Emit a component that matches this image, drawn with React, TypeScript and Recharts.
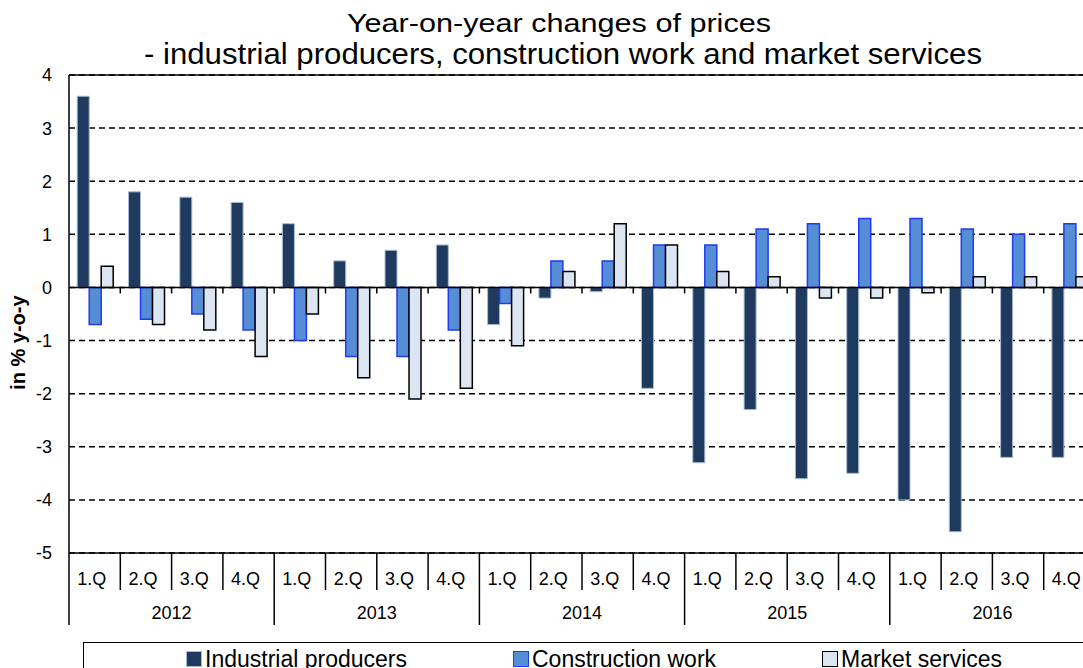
import { BarChart, Bar, XAxis, YAxis, CartesianGrid, ReferenceLine, Legend } from "recharts";

const quarters = [
  "1.Q", "2.Q", "3.Q", "4.Q",
  "1.Q", "2.Q", "3.Q", "4.Q",
  "1.Q", "2.Q", "3.Q", "4.Q",
  "1.Q", "2.Q", "3.Q", "4.Q",
  "1.Q", "2.Q", "3.Q", "4.Q",
];
const years = ["2012", "2013", "2014", "2015", "2016"];
const seriesNames = ["Industrial producers", "Construction work", "Market services"];

const industrial = [3.6, 1.8, 1.7, 1.6, 1.2, 0.5, 0.7, 0.8, -0.7, -0.2, -0.08, -1.9, -3.3, -2.3, -3.6, -3.5, -4.0, -4.6, -3.2, -3.2];
const construction = [-0.7, -0.6, -0.5, -0.8, -1.0, -1.3, -1.3, -0.8, -0.3, 0.5, 0.5, 0.8, 0.8, 1.1, 1.2, 1.3, 1.3, 1.1, 1.0, 1.2];
const services = [0.4, -0.7, -0.8, -1.3, -0.5, -1.7, -2.1, -1.9, -1.1, 0.3, 1.2, 0.8, 0.3, 0.2, -0.2, -0.2, -0.1, 0.2, 0.2, 0.2];

const yTicks = [-5, -4, -3, -2, -1, 0, 1, 2, 3, 4];

const data = quarters.map((q, i) => ({
  key: `${years[Math.floor(i / 4)]} ${q}`,
  industrial: industrial[i],
  construction: construction[i],
  services: services[i],
}));

const FONT = "'Liberation Sans', Arial, sans-serif";
const W = 1100;
const H = 668;
const M = { top: 75, right: 5, bottom: 43, left: 0 };
const Y_W = 69;
const X_H = 72;
const BAND = (W - M.left - M.right - Y_W) / quarters.length;

function XTick(props: any) {
  const { x, y, payload } = props;
  const i = props.index ?? payload.index;
  const left = x - BAND / 2;
  const yearStart = i % 4 === 0;
  return (
    <g>
      <line x1={left} y1={y} x2={left} y2={y + (yearStart ? 72 : 37)} stroke="#000" strokeWidth={1.5} />
      <text x={x - 3} y={y + 32} textAnchor="middle" fontSize={18} fontFamily={FONT} fill="#000">
        {quarters[i]}
      </text>
      {yearStart && (
        <text x={left + BAND * 2} y={y + 66} textAnchor="middle" fontSize={18} fontFamily={FONT} fill="#000">
          {years[i / 4]}
        </text>
      )}
    </g>
  );
}

// zero line with the small tick marks hanging below it
function ZeroLine(p: any) {
  const step = (p.x2 - p.x1) / quarters.length;
  return (
    <g>
      <line x1={p.x1} y1={p.y1} x2={p.x2} y2={p.y2} stroke="#000" strokeWidth={1.5} />
      {quarters.map((_, i) =>
        i === 0 ? null : (
          <line key={i} x1={p.x1 + step * i} y1={p.y1} x2={p.x1 + step * i} y2={p.y1 + 6} stroke="#000" strokeWidth={1.5} />
        )
      )}
    </g>
  );
}

const legendX = [102, 429, 738];

function LegendBox({ payload }: any) {
  const items = [...(payload || [])].sort((a: any, b: any) => seriesNames.indexOf(a.value) - seriesNames.indexOf(b.value));
  return (
    <div style={{ position: "relative", width: W, height: 40, borderTop: "1.5px solid #000", borderLeft: "1.5px solid #000", boxSizing: "border-box", fontFamily: FONT, fontSize: 23, color: "#000" }}>
      {items.map((e: any, i: number) => (
        <div key={e.value} style={{ position: "absolute", left: legendX[i], top: 3, height: 26, display: "flex", alignItems: "center", whiteSpace: "nowrap" }}>
          <span style={{ display: "inline-block", width: 14, height: 14, background: e.payload?.fill ?? e.color, border: `1px solid ${e.payload?.stroke ?? e.color}`, marginRight: 3 }} />
          {e.value}
        </div>
      ))}
    </div>
  );
}

export default function App() {
  return (
    <div style={{ position: "fixed", left: 0, top: 0, width: 1083, height: 668, overflow: "hidden", background: "#fff" }}>
      <BarChart width={W} height={H} data={data} margin={M} barCategoryGap="16%" barGap={0}>
        <CartesianGrid horizontal vertical={false} stroke="#000" strokeWidth={1.5} strokeDasharray="6 4" />
        <XAxis
          dataKey="key"
          interval={0}
          height={X_H}
          tickLine={false}
          tickSize={0}
          tickMargin={0}
          axisLine={{ stroke: "#000", strokeWidth: 1.5 }}
          tick={XTick}
        />
        <YAxis
          width={Y_W}
          domain={[-5, 4]}
          ticks={yTicks}
          interval={0}
          tickLine={false}
          tickSize={0}
          tickMargin={17}
          axisLine={{ stroke: "#000", strokeWidth: 1.5 }}
          tick={{ fontSize: 18, fontFamily: FONT, fill: "#000" }}
          label={{
            content: ({ viewBox }: any) => (
              <text
                transform={`translate(${viewBox.x + 20}, ${viewBox.y + viewBox.height * 0.56}) rotate(-90)`}
                textAnchor="middle"
                dominantBaseline="middle"
                fontSize={20}
                fontWeight="bold"
                fontFamily={FONT}
                fill="#000"
              >
                in % y-o-y
              </text>
            ),
          }}
        />
        <ReferenceLine y={4} stroke="#000" strokeWidth={1.5} />
        <Bar dataKey="industrial" name={seriesNames[0]} fill="#1F3A5F" stroke="#A9BAD0" strokeWidth={1} isAnimationActive={false} />
        <Bar dataKey="construction" name={seriesNames[1]} fill="#558ED5" stroke="#1E3CF0" strokeWidth={1.5} isAnimationActive={false} />
        <Bar dataKey="services" name={seriesNames[2]} fill="#DCE6F2" stroke="#000" strokeWidth={1.5} isAnimationActive={false} />
        <ReferenceLine y={0} shape={ZeroLine} />
        <Legend
          layout="horizontal"
          verticalAlign="middle"
          align="center"
          content={LegendBox}
          wrapperStyle={{ left: 83, top: 642, width: W, height: 40 }}
        />
      </BarChart>
      <svg width={W} height={75} style={{ position: "absolute", left: 0, top: 0, pointerEvents: "none" }}>
        <text x={347} y={32} textLength={424} lengthAdjust="spacingAndGlyphs" fontSize={25} fontFamily={FONT} fill="#000">
          Year-on-year changes of prices
        </text>
        <text x={144} y={64} textLength={838} lengthAdjust="spacingAndGlyphs" fontSize={29} fontFamily={FONT} fill="#000">
          - industrial producers, construction work and market services
        </text>
      </svg>
    </div>
  );
}
